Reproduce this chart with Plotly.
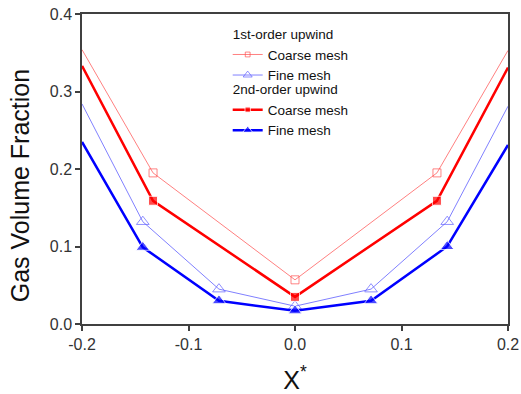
import plotly.graph_objects as go

x_coarse = [-0.2, -0.1333, 0.0, 0.1333, 0.2]
x_fine = [-0.2, -0.1429, -0.0714, 0.0, 0.0714, 0.1429, 0.2]

first_coarse = [0.354, 0.195, 0.057, 0.195, 0.353]
first_fine = [0.284, 0.132, 0.045, 0.023, 0.045, 0.132, 0.281]
second_coarse = [0.333, 0.159, 0.035, 0.159, 0.331]
second_fine = [0.235, 0.099, 0.030, 0.017, 0.030, 0.100, 0.231]

x_ticks = [-0.2, -0.1, 0.0, 0.1, 0.2]
y_ticks = [0.0, 0.1, 0.2, 0.3, 0.4]

def sizes(n, s):
    return [0] + [s] * (n - 2) + [0]

fig = go.Figure()
fig.add_trace(go.Scatter(
    x=x_coarse, y=first_coarse, mode="lines+markers", name="Coarse mesh",
    legend="legend", legendgroup="g1", legendgrouptitle=dict(text="1st-order upwind"),
    line=dict(color="#ff8080", width=1),
    marker=dict(symbol="square-open", size=sizes(5, 8), color="#ff5050", line=dict(width=1))))
fig.add_trace(go.Scatter(
    x=x_fine, y=first_fine, mode="lines+markers", name="Fine mesh",
    legend="legend", legendgroup="g1",
    line=dict(color="#8080ff", width=1),
    marker=dict(symbol="triangle-up-open", size=sizes(7, 11), color="#6060ff", line=dict(width=1))))
fig.add_trace(go.Scatter(
    x=x_coarse, y=second_coarse, mode="lines+markers", name="Coarse mesh",
    legend="legend2", legendgroup="g2", legendgrouptitle=dict(text="2nd-order upwind"),
    line=dict(color="#ff0000", width=2.5),
    marker=dict(symbol="square", size=sizes(5, 9), color="#ff0000")))
fig.add_trace(go.Scatter(
    x=x_fine, y=second_fine, mode="lines+markers", name="Fine mesh",
    legend="legend2", legendgroup="g2",
    line=dict(color="#0000ff", width=2.5),
    marker=dict(symbol="triangle-up", size=sizes(7, 12), color="#0000ff")))

axis_common = dict(
    showline=True, linecolor="#404040", linewidth=1.5, mirror=True,
    ticks="outside", ticklen=5, tickcolor="#404040", tickwidth=1.5,
    showgrid=False, zeroline=False, automargin=False,
    tickfont=dict(family="Liberation Sans, Arial", size=16, color="#333"),
)

legend_common = dict(xanchor="left", yanchor="top", bgcolor="rgba(0,0,0,0)",
                     font=dict(size=13.5), tracegroupgap=0, itemwidth=30,
                     grouptitlefont=dict(size=13.5))

fig.update_layout(
    width=521, height=394,
    margin=dict(l=82, r=13, t=14, b=70),
    paper_bgcolor="white", plot_bgcolor="white",
    font=dict(family="Liberation Sans, Arial", color="#111"),
    xaxis=dict(range=[-0.2, 0.2], tickvals=x_ticks, ticktext=[f"{v:.1f}" for v in x_ticks],
               title=dict(text="X<sup>*</sup>", font=dict(size=25), standoff=26), **axis_common),
    yaxis=dict(range=[0, 0.4], tickvals=y_ticks, ticktext=[f"{v:.1f}" for v in y_ticks],
               **axis_common),
    legend=dict(x=0.342, y=0.985, **legend_common),
    legend2=dict(x=0.342, y=0.807, **legend_common),
    annotations=[dict(text="Gas Volume Fraction", textangle=-90,
                      xref="paper", yref="paper", x=-0.145, y=0.445,
                      xanchor="center", yanchor="middle", showarrow=False,
                      font=dict(size=25, color="#111"))],
)

fig.write_html("out.html")
